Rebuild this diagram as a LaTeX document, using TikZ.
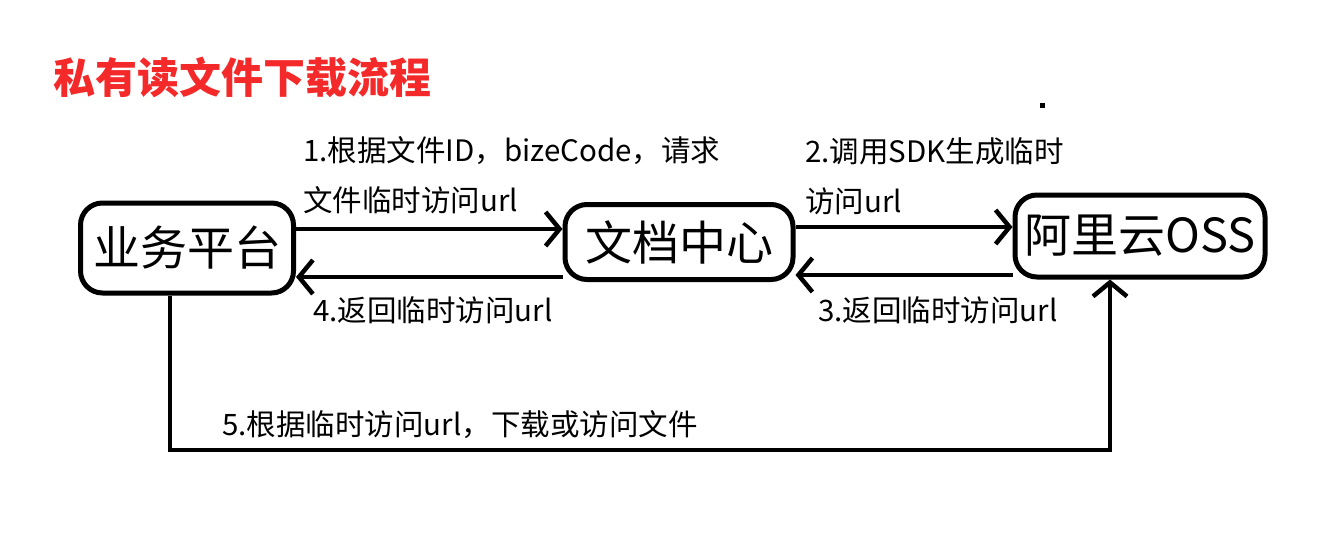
\documentclass[tikz,border=0pt]{standalone}
\usepackage{fontspec}
\setmainfont{Noto Sans CJK SC}
\usepackage{tikz}
\usetikzlibrary{arrows.meta}
\definecolor{titlered}{HTML}{F42A2A}

\begin{document}
\begin{tikzpicture}[
  x=1pt, y=-1pt,
  box/.style={draw,line width=5pt,rounded corners=22pt,inner sep=0pt,font=\fontsize{47}{56}\selectfont},
  lbl/.style={anchor=west,inner sep=0pt,align=left,font=\fontsize{29.5}{50}\selectfont},
  ar/.style={-{Straight Barb[length=14pt,width=34pt]},line width=4.5pt}
]
\useasboundingbox (0,0) rectangle (1338,546);
\node[anchor=west,inner sep=0pt,text=titlered,font=\fontsize{42}{50}\selectfont\bfseries] (title) at (53,77) {私有读文件下载流程};
\fill (1040,103) rectangle (1045,108);
\node[box,minimum width=213pt,minimum height=90pt] (biz) at (187,248) {业务平台};
\node[box,minimum width=228pt,minimum height=75pt] (doc) at (679,242) {文档中心};
\node[box,minimum width=250pt,minimum height=82pt] (oss) at (1140,236) {阿里云OSS};
\draw[ar] (biz.east |- 0,229) -- (doc.west |- 0,229);
\draw[ar] (doc.west |- 0,277) -- (biz.east |- 0,277);
\draw[ar] (doc.east |- 0,227) -- (oss.west |- 0,227);
\draw[ar] (oss.west |- 0,275) -- (doc.east |- 0,275);
\draw[ar] (biz.south -| 170,0) -- (170,450) -- (1110,450) -- (oss.south -| 1110,0);
\node[lbl] (lbla) at (303,175) {1.根据文件ID，bizeCode，请求\\文件临时访问url};
\node[lbl] (lblb) at (805,176) {2.调用SDK生成临时\\访问url};
\node[lbl] (lblc) at (818,310) {3.返回临时访问url};
\node[lbl] (lbld) at (313,310) {4.返回临时访问url};
\node[lbl] (lble) at (222,425) {5.根据临时访问url，下载或访问文件};
\end{tikzpicture}
\end{document}
